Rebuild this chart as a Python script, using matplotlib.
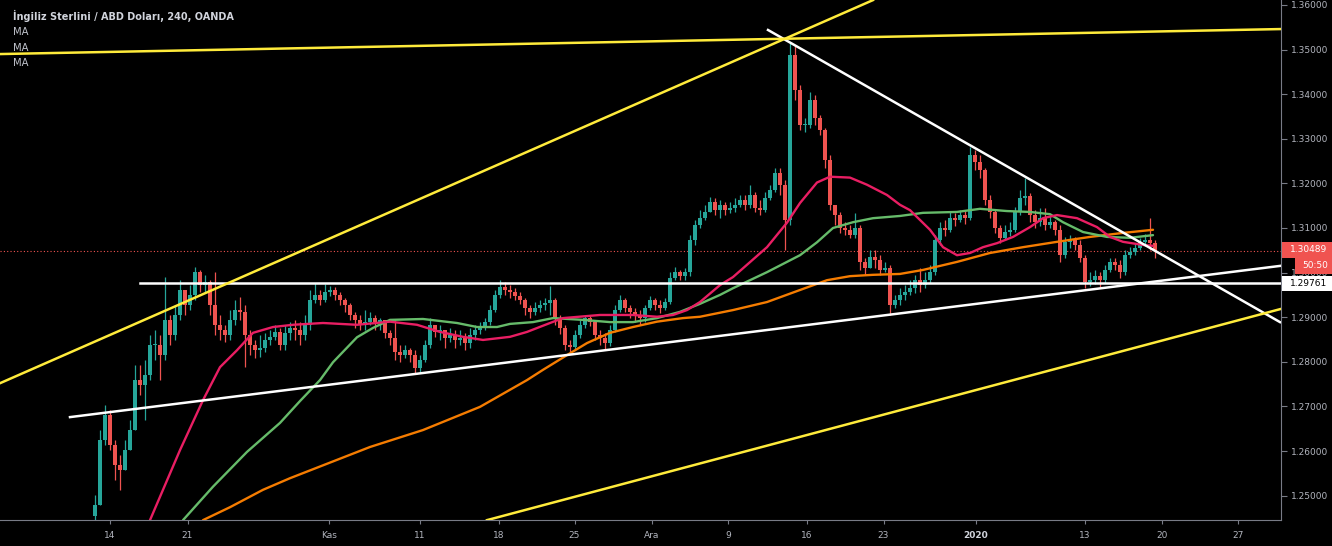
import matplotlib
matplotlib.use("Agg")
import matplotlib.pyplot as plt
from matplotlib.patches import Rectangle
import numpy as np

# ---------------- data ----------------
title = "İngiliz Sterlini / ABD Doları, 240, OANDA"
legend_names = ["MA", "MA", "MA"]

first_open = 1.2455
closes = [
    1.2479, 1.2625, 1.2681, 1.2613, 1.2569, 1.2557, 1.2602, 1.2647, 1.2759, 1.2748,
    1.2770, 1.2838, 1.2838, 1.2815, 1.2894, 1.2860, 1.2905, 1.2961, 1.2927, 1.2950,
    1.3001, 1.2972, 1.2979, 1.2927, 1.2883, 1.2871, 1.2860, 1.2894, 1.2916, 1.2912,
    1.2860, 1.2838, 1.2826, 1.2831, 1.2849, 1.2856, 1.2867, 1.2838, 1.2865, 1.2876,
    1.2871, 1.2860, 1.2883, 1.2939, 1.2950, 1.2939, 1.2957, 1.2961, 1.2950, 1.2939,
    1.2927, 1.2905, 1.2894, 1.2883, 1.2889, 1.2898, 1.2889, 1.2894, 1.2865, 1.2853,
    1.2822, 1.2815, 1.2826, 1.2815, 1.2786, 1.2804, 1.2838, 1.2883, 1.2867, 1.2871,
    1.2853, 1.2860, 1.2849, 1.2853, 1.2842, 1.2860, 1.2871, 1.2876, 1.2889, 1.2916,
    1.2950, 1.2968, 1.2961, 1.2957, 1.2948, 1.2939, 1.2921, 1.2912, 1.2921, 1.2927,
    1.2932, 1.2939, 1.2898, 1.2876, 1.2838, 1.2833, 1.2860, 1.2883, 1.2898, 1.2889,
    1.2860, 1.2853, 1.2842, 1.2871, 1.2916, 1.2939, 1.2921, 1.2912, 1.2905, 1.2898,
    1.2921, 1.2939, 1.2927, 1.2921, 1.2934, 1.2988, 1.3001, 1.2992, 1.3001, 1.3073,
    1.3107, 1.3122, 1.3136, 1.3158, 1.3140, 1.3152, 1.3140, 1.3145, 1.3152, 1.3163,
    1.3152, 1.3174, 1.3145, 1.3140, 1.3167, 1.3185, 1.3223, 1.3196, 1.3118, 1.3488,
    1.3409, 1.3331, 1.3331, 1.3387, 1.3347, 1.3320, 1.3252, 1.3152, 1.3129, 1.3100,
    1.3096, 1.3084, 1.3100, 1.3024, 1.3010, 1.3035, 1.3028, 1.3006, 1.3010, 1.2927,
    1.2939, 1.2950, 1.2957, 1.2966, 1.2983, 1.2972, 1.2983, 1.3001, 1.3073, 1.3100,
    1.3096, 1.3122, 1.3118, 1.3129, 1.3122, 1.3264, 1.3248, 1.3230, 1.3163, 1.3136,
    1.3100, 1.3078, 1.3091, 1.3096, 1.3136, 1.3167, 1.3172, 1.3129, 1.3113, 1.3122,
    1.3107, 1.3113, 1.3096, 1.3040, 1.3069, 1.3073, 1.3062, 1.3033, 1.2979, 1.2983,
    1.2992, 1.2983, 1.3006, 1.3024, 1.3017, 1.3001, 1.3040, 1.3046, 1.3055, 1.3069,
    1.3073, 1.3067, 1.3049,
]
highs = [
    1.2501, 1.2647, 1.2703, 1.2692, 1.2625, 1.2591, 1.2625, 1.2669, 1.2793, 1.2793,
    1.2804, 1.2860, 1.2871, 1.2860, 1.2990, 1.2905, 1.2927, 1.2983, 1.2961, 1.2972,
    1.3013, 1.3006, 1.2995, 1.2983, 1.3001, 1.2905, 1.2883, 1.2916, 1.2939, 1.2945,
    1.2927, 1.2871, 1.2849, 1.2860, 1.2865, 1.2871, 1.2883, 1.2876, 1.2883, 1.2889,
    1.2894, 1.2889, 1.2905, 1.2961, 1.2977, 1.2961, 1.2974, 1.2970, 1.2968, 1.2957,
    1.2943, 1.2932, 1.2912, 1.2905, 1.2916, 1.2912, 1.2905, 1.2898, 1.2894, 1.2871,
    1.2894, 1.2838, 1.2838, 1.2831, 1.2826, 1.2815, 1.2849, 1.2898, 1.2883, 1.2883,
    1.2871, 1.2876, 1.2871, 1.2871, 1.2865, 1.2876, 1.2883, 1.2889, 1.2898, 1.2927,
    1.2961, 1.2983, 1.2979, 1.2972, 1.2966, 1.2957, 1.2943, 1.2927, 1.2934, 1.2939,
    1.2943, 1.2970, 1.2943, 1.2905, 1.2883, 1.2849, 1.2871, 1.2894, 1.2905, 1.2903,
    1.2894, 1.2871, 1.2865, 1.2883, 1.2927, 1.2950, 1.2943, 1.2927, 1.2921, 1.2916,
    1.2927, 1.2948, 1.2943, 1.2939, 1.2943, 1.3001, 1.3013, 1.3006, 1.3010, 1.3084,
    1.3118, 1.3140, 1.3152, 1.3170, 1.3167, 1.3163, 1.3158, 1.3158, 1.3167, 1.3174,
    1.3174, 1.3196, 1.3181, 1.3163, 1.3181, 1.3196, 1.3235, 1.3235, 1.3208, 1.3517,
    1.3510, 1.3421, 1.3347, 1.3405, 1.3398, 1.3353, 1.3324, 1.3264, 1.3152, 1.3136,
    1.3113, 1.3107, 1.3134, 1.3107, 1.3033, 1.3051, 1.3051, 1.3040, 1.3024, 1.3017,
    1.2950, 1.2966, 1.2972, 1.2983, 1.2995, 1.3010, 1.3001, 1.3017, 1.3084, 1.3113,
    1.3118, 1.3136, 1.3134, 1.3140, 1.3140, 1.3282, 1.3275, 1.3264, 1.3235, 1.3174,
    1.3140, 1.3107, 1.3107, 1.3113, 1.3147, 1.3185, 1.3212, 1.3178, 1.3140, 1.3145,
    1.3145, 1.3129, 1.3118, 1.3107, 1.3080, 1.3084, 1.3080, 1.3073, 1.3040, 1.3001,
    1.3006, 1.3001, 1.3017, 1.3033, 1.3033, 1.3028, 1.3051, 1.3057, 1.3066, 1.3078,
    1.3087, 1.3122, 1.3073,
]
lows = [
    1.2434, 1.2479, 1.2613, 1.2602, 1.2535, 1.2513, 1.2557, 1.2613, 1.2647, 1.2726,
    1.2669, 1.2759, 1.2804, 1.2759, 1.2804, 1.2838, 1.2849, 1.2894, 1.2905, 1.2916,
    1.2939, 1.2957, 1.2957, 1.2905, 1.2860, 1.2849, 1.2844, 1.2849, 1.2883, 1.2894,
    1.2788, 1.2815, 1.2809, 1.2811, 1.2822, 1.2838, 1.2849, 1.2826, 1.2826, 1.2849,
    1.2849, 1.2838, 1.2849, 1.2871, 1.2932, 1.2927, 1.2934, 1.2948, 1.2939, 1.2927,
    1.2912, 1.2894, 1.2876, 1.2871, 1.2871, 1.2883, 1.2871, 1.2871, 1.2853, 1.2838,
    1.2804, 1.2800, 1.2809, 1.2800, 1.2773, 1.2777, 1.2800, 1.2831, 1.2856, 1.2849,
    1.2831, 1.2844, 1.2831, 1.2838, 1.2826, 1.2831, 1.2849, 1.2862, 1.2871, 1.2883,
    1.2912, 1.2943, 1.2950, 1.2943, 1.2939, 1.2930, 1.2905, 1.2898, 1.2905, 1.2912,
    1.2916, 1.2905, 1.2883, 1.2862, 1.2826, 1.2822, 1.2826, 1.2853, 1.2876, 1.2880,
    1.2849, 1.2838, 1.2826, 1.2835, 1.2867, 1.2912, 1.2912, 1.2898, 1.2889, 1.2883,
    1.2889, 1.2916, 1.2916, 1.2909, 1.2916, 1.2930, 1.2983, 1.2983, 1.2983, 1.2992,
    1.3062, 1.3100, 1.3118, 1.3140, 1.3129, 1.3122, 1.3129, 1.3134, 1.3136, 1.3147,
    1.3140, 1.3145, 1.3136, 1.3129, 1.3136, 1.3163, 1.3181, 1.3174, 1.3051, 1.3107,
    1.3387, 1.3320, 1.3315, 1.3324, 1.3331, 1.3309, 1.3235, 1.3140, 1.3107, 1.3089,
    1.3084, 1.3078, 1.3078, 1.3006, 1.2995, 1.3017, 1.3010, 1.2995, 1.3001, 1.2905,
    1.2921, 1.2927, 1.2939, 1.2950, 1.2954, 1.2957, 1.2966, 1.2977, 1.2995, 1.3062,
    1.3082, 1.3091, 1.3104, 1.3113, 1.3109, 1.3118, 1.3230, 1.3212, 1.3152, 1.3122,
    1.3089, 1.3066, 1.3073, 1.3082, 1.3091, 1.3129, 1.3152, 1.3113, 1.3100, 1.3104,
    1.3096, 1.3100, 1.3084, 1.3024, 1.3033, 1.3055, 1.3051, 1.3024, 1.2966, 1.2970,
    1.2974, 1.2968, 1.2977, 1.3001, 1.3006, 1.2988, 1.2995, 1.3033, 1.3040, 1.3051,
    1.3060, 1.3051, 1.3033,
]

# moving averages: (bar index, value)
ma_fast_idx = [11, 17, 21.6, 25, 28.4, 31.6, 35.6, 39.6, 45.6, 52.4, 59, 64.4, 69, 73.6, 77.6,
               83, 86.4, 91, 93.6, 101, 107.6, 112.4, 115.6, 118.4, 121, 125, 127.6, 134.4,
               138.4, 141, 144.4, 147, 151, 154.4, 158.4, 161, 163, 167, 169.6, 172.4, 175,
               177.6, 180.4, 183.6, 187, 189.6, 192.4, 196.4, 200.4, 203, 205.6, 209.6, 211.6]
ma_fast_val = [1.2445, 1.2602, 1.2714, 1.2788, 1.2826, 1.2865, 1.2878, 1.2883, 1.2887, 1.2883,
               1.2890, 1.2883, 1.2867, 1.2856, 1.2849, 1.2856, 1.2867, 1.2887, 1.2898, 1.2905,
               1.2905, 1.2901, 1.2905, 1.2916, 1.2934, 1.2972, 1.2990, 1.3057, 1.3112, 1.3156,
               1.3202, 1.3215, 1.3213, 1.3197, 1.3174, 1.3152, 1.3140, 1.3096, 1.3057, 1.3039,
               1.3044, 1.3057, 1.3066, 1.3080, 1.3102, 1.3122, 1.3129, 1.3122, 1.3102, 1.3080,
               1.3069, 1.3062, 1.3060]
ma_mid_idx = [17.6, 23.6, 30.4, 37, 41, 45, 47.6, 52.4, 55.6, 59, 65.6, 72.4, 76.4, 80.4, 83, 87.6,
              91.6, 97.6, 103, 107.6, 112.4, 117, 121, 125, 127.6, 134.4, 141, 144.4, 147.6,
              151.6, 155.6, 161, 165.6, 172.4, 177, 182.4, 187, 191, 193.6, 197.6, 202.4,
              207, 211.6]
ma_mid_val = [1.2445, 1.2520, 1.2598, 1.2663, 1.2712, 1.2759, 1.2799, 1.2855, 1.2876, 1.2894,
              1.2896, 1.2887, 1.2878, 1.2878, 1.2885, 1.2889, 1.2898, 1.2894, 1.2889, 1.2889,
              1.2898, 1.2912, 1.2930, 1.2950, 1.2965, 1.3001, 1.3039, 1.3068, 1.3100, 1.3113,
              1.3122, 1.3127, 1.3134, 1.3136, 1.3143, 1.3138, 1.3136, 1.3131, 1.3113, 1.3091,
              1.3080, 1.3078, 1.3084]
ma_slow_idx = [21.6, 27, 33.6, 39, 55, 65.6, 77, 86.4, 89.6, 94.4, 98.4, 103, 107.6, 112.4,
               117.6, 121, 127.6, 134.4, 141, 146.4, 151, 155.6, 161, 165.6, 172.4, 179,
               185.6, 192.4, 199, 205.6, 211.6]
ma_slow_val = [1.2445, 1.2474, 1.2513, 1.2539, 1.2609, 1.2647, 1.2699, 1.2759, 1.2782,
               1.2815, 1.2842, 1.2865, 1.2878, 1.2890, 1.2898, 1.2901, 1.2916, 1.2934, 1.2961,
               1.2983, 1.2992, 1.2995, 1.2997, 1.3006, 1.3024, 1.3044, 1.3057, 1.3069, 1.3080,
               1.3089, 1.3096]

# drawn trend lines: ((bar idx, price), (bar idx, price))
white_lines = [((-5, 1.2676), (237, 1.3015)),
               ((9, 1.29761), (237, 1.29761)),
               ((134.6, 1.3544), (237, 1.2889))]
yellow_lines = [((-19, 1.3490), (237, 1.3546)),
                ((-19, 1.2752), (155.6, 1.3611)),
                ((78.4, 1.2445), (237, 1.2918))]

last_price = 1.30489
level_price = 1.29761
countdown = "50:50"

tick_labels = ["14", "21", "Kas", "11", "18", "25", "Ara", "9", "16", "23", "2020", "13", "20", "27"]
tick_pos = [3, 18.5, 46.8, 65, 80.8, 95.9, 111.4, 126.6, 142.3, 157.7, 176.2, 198, 213.4, 228.6]
price_ticks = [1.25, 1.26, 1.27, 1.28, 1.29, 1.30, 1.31, 1.32, 1.33, 1.34, 1.35, 1.36]

# ---------------- drawing ----------------
W, H = 1332, 546
fig = plt.figure(figsize=(W / 100, H / 100), dpi=100, facecolor="black")
ax = fig.add_axes([0, 26 / H, 1281 / W, 520 / H])
ax.set_facecolor("black")

UP, DOWN = "#26a69a", "#ef5350"
GRAY = "#b2b5be"

c = np.array(closes)
o = np.concatenate([[first_open], c[:-1]])
hi = np.maximum(np.array(highs), np.maximum(o, c))
lo = np.minimum(np.array(lows), np.minimum(o, c))
x = np.arange(len(c))
up = c >= o
cols = np.where(up, UP, DOWN)

ax.vlines(x, lo, hi, colors=cols, linewidth=0.9, zorder=2)
body_bottom = np.minimum(o, c)
body_h = np.maximum(np.abs(c - o), 0.00012)
ax.bar(x, body_h, bottom=body_bottom, width=0.66, color=cols, linewidth=0, zorder=3)

ax.plot(ma_slow_idx, ma_slow_val, color="#f57c00", lw=1.7, zorder=4,
        solid_capstyle="round", solid_joinstyle="round")
ax.plot(ma_mid_idx, ma_mid_val, color="#66bb6a", lw=1.7, zorder=4,
        solid_capstyle="round", solid_joinstyle="round")
ax.plot(ma_fast_idx, ma_fast_val, color="#e91e63", lw=1.7, zorder=5,
        solid_capstyle="round", solid_joinstyle="round")

for (a, b) in white_lines:
    ax.plot([a[0], b[0]], [a[1], b[1]], color="white", lw=1.8, zorder=6)
for (a, b) in yellow_lines:
    ax.plot([a[0], b[0]], [a[1], b[1]], color="#ffeb3b", lw=1.8, zorder=6)

ax.axhline(last_price, color=DOWN, lw=0.8, ls=(0, (1, 2)), zorder=1)

ax.set_xlim(-19, 237.2)
ax.set_ylim(1.24453, 1.36112)

for s in ["top", "left"]:
    ax.spines[s].set_visible(False)
for s in ["right", "bottom"]:
    ax.spines[s].set_color("#787b86")
    ax.spines[s].set_linewidth(0.8)

ax.yaxis.tick_right()
ax.set_yticks(price_ticks)
ax.set_yticklabels([f"{p:.5f}" for p in price_ticks])
ax.tick_params(axis="y", colors="#787b86", labelcolor=GRAY, labelsize=6.5, length=4, width=0.8, pad=3)
ax.set_xticks(tick_pos)
ax.set_xticklabels(tick_labels)
ax.tick_params(axis="x", colors="#787b86", labelcolor=GRAY, labelsize=6.5, length=3, width=0.8, pad=5)
for lab in ax.get_xticklabels():
    if lab.get_text() == "2020":
        lab.set_fontweight("bold")
        lab.set_color("#d1d4dc")


def fx(px):
    return px / W


def fy(py):
    return 1 - py / H


fig.text(fx(13), fy(16), title, color="#d1d4dc", fontsize=7.0, fontweight="semibold",
         va="center", ha="left")
for k, name in enumerate(legend_names):
    fig.text(fx(13), fy(32 + 15.7 * k), name, color="#c0c3cc", fontsize=7.2, va="center", ha="left")

# price labels on the right scale
fig.patches.append(Rectangle((fx(1282), fy(258)), fx(50), 16 / H, transform=fig.transFigure,
                             facecolor="#f05350", edgecolor="none", zorder=5))
fig.text(fx(1290), fy(250), f"{last_price:.5f}", color="white", fontsize=6.5, va="center", ha="left", zorder=6)
fig.patches.append(Rectangle((fx(1295), fy(274)), fx(37), 16 / H, transform=fig.transFigure,
                             facecolor="#f05350", edgecolor="none", zorder=5))
fig.text(fx(1302), fy(266), countdown, color="white", fontsize=6.5, va="center", ha="left", zorder=6)
fig.patches.append(Rectangle((fx(1282), fy(291)), fx(50), 15 / H, transform=fig.transFigure,
                             facecolor="white", edgecolor="none", zorder=5))
fig.text(fx(1290), fy(283.5), f"{level_price:.5f}", color="black", fontsize=6.5, va="center", ha="left", zorder=6)

fig.savefig("out.png", dpi=100, facecolor="black")
